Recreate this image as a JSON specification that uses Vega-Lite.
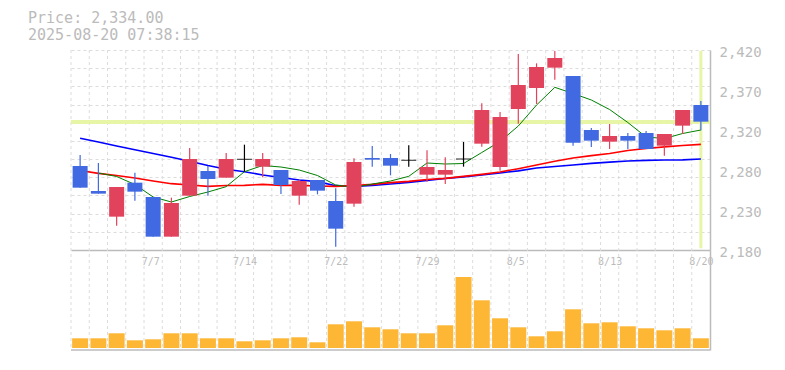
{
  "$schema": "https://vega.github.io/schema/vega-lite/v6.json",
  "autosize": {"type": "none"},
  "padding": {"left": 71, "top": 50, "right": 75, "bottom": 20},
  "width": 639,
  "height": 300,
  "background": "white",
  "config": {"view": {"stroke": null}},
  "title": {
    "text": ["Price: 2,334.00", "2025-08-20 07:38:15"],
    "anchor": "start",
    "frame": "group",
    "orient": "top",
    "dx": -43,
    "offset": 1.6,
    "font": "DejaVu Sans Mono",
    "fontSize": 15,
    "fontWeight": "normal",
    "lineHeight": 17.5,
    "color": "#bbbbbb"
  },
  "data": {"values": [
    {"d": "7/1", "o": 2280.8, "h": 2294.0, "l": 2254.8, "c": 2254.8, "v": 97000, "ma5": null, "ma25": 2275.4, "ma75": 2314.0},
    {"d": "7/2", "o": 2250.8, "h": 2284.4, "l": 2247.6, "c": 2247.6, "v": 97000, "ma5": 2272.4, "ma25": 2272.0, "ma75": 2309.5},
    {"d": "7/3", "o": 2220.0, "h": 2255.6, "l": 2209.2, "c": 2255.6, "v": 147000, "ma5": 2268.2, "ma25": 2269.4, "ma75": 2304.9},
    {"d": "7/4", "o": 2260.8, "h": 2272.8, "l": 2239.2, "c": 2250.0, "v": 77000, "ma5": 2258.6, "ma25": 2266.4, "ma75": 2300.4},
    {"d": "7/7", "o": 2243.6, "h": 2243.6, "l": 2196.0, "c": 2196.0, "v": 87000, "ma5": 2243.6, "ma25": 2262.8, "ma75": 2295.8},
    {"d": "7/8", "o": 2196.0, "h": 2242.8, "l": 2196.0, "c": 2236.4, "v": 147000, "ma5": 2237.6, "ma25": 2259.6, "ma75": 2291.2},
    {"d": "7/9", "o": 2245.2, "h": 2302.4, "l": 2245.2, "c": 2289.2, "v": 147000, "ma5": 2244.2, "ma25": 2258.0, "ma75": 2286.6},
    {"d": "7/10", "o": 2274.8, "h": 2280.8, "l": 2245.2, "c": 2265.2, "v": 97000, "ma5": 2249.6, "ma25": 2256.4, "ma75": 2281.4},
    {"d": "7/11", "o": 2266.8, "h": 2296.4, "l": 2266.8, "c": 2289.2, "v": 97000, "ma5": 2256.0, "ma25": 2257.4, "ma75": 2276.8},
    {"d": "7/14", "o": 2288.8, "h": 2306.4, "l": 2274.0, "c": 2288.8, "v": 67000, "ma5": 2274.0, "ma25": 2257.6, "ma75": 2274.0},
    {"d": "7/15", "o": 2280.0, "h": 2296.4, "l": 2267.2, "c": 2289.2, "v": 77000, "ma5": 2281.4, "ma25": 2258.8, "ma75": 2270.0},
    {"d": "7/16", "o": 2276.0, "h": 2276.0, "l": 2247.2, "c": 2258.0, "v": 97000, "ma5": 2279.6, "ma25": 2257.6, "ma75": 2267.0},
    {"d": "7/17", "o": 2245.2, "h": 2264.4, "l": 2234.4, "c": 2262.8, "v": 107000, "ma5": 2276.0, "ma25": 2257.6, "ma75": 2264.0},
    {"d": "7/18", "o": 2264.0, "h": 2264.0, "l": 2246.8, "c": 2251.2, "v": 57000, "ma5": 2269.4, "ma25": 2256.8, "ma75": 2262.0},
    {"d": "7/22", "o": 2238.8, "h": 2254.0, "l": 2184.0, "c": 2205.6, "v": 237000, "ma5": 2258.0, "ma25": 2256.4, "ma75": 2257.2},
    {"d": "7/23", "o": 2235.6, "h": 2290.0, "l": 2232.0, "c": 2285.6, "v": 267000, "ma5": 2255.0, "ma25": 2257.4, "ma75": 2256.4},
    {"d": "7/24", "o": 2290.4, "h": 2304.8, "l": 2280.0, "c": 2288.4, "v": 207000, "ma5": 2259.2, "ma25": 2258.8, "ma75": 2257.4},
    {"d": "7/25", "o": 2290.4, "h": 2295.2, "l": 2269.6, "c": 2281.2, "v": 187000, "ma5": 2262.8, "ma25": 2260.8, "ma75": 2259.2},
    {"d": "7/28", "o": 2287.6, "h": 2305.6, "l": 2280.0, "c": 2287.6, "v": 147000, "ma5": 2268.4, "ma25": 2262.4, "ma75": 2261.2},
    {"d": "7/29", "o": 2270.4, "h": 2299.6, "l": 2262.0, "c": 2279.6, "v": 147000, "ma5": 2284.4, "ma25": 2264.6, "ma75": 2263.6},
    {"d": "7/30", "o": 2270.4, "h": 2291.2, "l": 2259.2, "c": 2276.0, "v": 227000, "ma5": 2283.2, "ma25": 2266.0, "ma75": 2265.8},
    {"d": "7/31", "o": 2289.2, "h": 2309.6, "l": 2280.0, "c": 2289.2, "v": 710000, "ma5": 2283.8, "ma25": 2268.4, "ma75": 2267.8},
    {"d": "8/1", "o": 2307.6, "h": 2356.0, "l": 2304.0, "c": 2348.0, "v": 477000, "ma5": 2297.0, "ma25": 2270.8, "ma75": 2270.0},
    {"d": "8/4", "o": 2279.6, "h": 2345.6, "l": 2275.2, "c": 2339.6, "v": 297000, "ma5": 2310.2, "ma25": 2273.6, "ma75": 2272.4},
    {"d": "8/5", "o": 2349.2, "h": 2415.2, "l": 2331.6, "c": 2378.0, "v": 207000, "ma5": 2328.8, "ma25": 2277.6, "ma75": 2275.0},
    {"d": "8/6", "o": 2374.4, "h": 2404.0, "l": 2355.2, "c": 2399.6, "v": 117000, "ma5": 2354.0, "ma25": 2282.0, "ma75": 2278.4},
    {"d": "8/7", "o": 2398.8, "h": 2418.8, "l": 2384.4, "c": 2410.4, "v": 167000, "ma5": 2375.2, "ma25": 2286.4, "ma75": 2280.2},
    {"d": "8/8", "o": 2388.8, "h": 2388.8, "l": 2305.2, "c": 2308.8, "v": 387000, "ma5": 2367.8, "ma25": 2290.4, "ma75": 2282.0},
    {"d": "8/12", "o": 2324.0, "h": 2326.4, "l": 2303.6, "c": 2311.2, "v": 247000, "ma5": 2360.0, "ma25": 2293.2, "ma75": 2284.0},
    {"d": "8/13", "o": 2310.0, "h": 2331.2, "l": 2301.2, "c": 2316.8, "v": 257000, "ma5": 2348.6, "ma25": 2295.8, "ma75": 2285.4},
    {"d": "8/14", "o": 2316.8, "h": 2320.4, "l": 2301.2, "c": 2311.2, "v": 217000, "ma5": 2333.0, "ma25": 2299.4, "ma75": 2286.8},
    {"d": "8/15", "o": 2320.4, "h": 2322.8, "l": 2301.2, "c": 2301.2, "v": 197000, "ma5": 2315.6, "ma25": 2301.8, "ma75": 2287.6},
    {"d": "8/18", "o": 2305.2, "h": 2319.2, "l": 2293.2, "c": 2319.2, "v": 177000, "ma5": 2313.8, "ma25": 2303.8, "ma75": 2288.0},
    {"d": "8/19", "o": 2329.2, "h": 2348.0, "l": 2319.2, "c": 2348.0, "v": 197000, "ma5": 2319.8, "ma25": 2305.4, "ma75": 2288.2},
    {"d": "8/20", "o": 2354.0, "h": 2358.8, "l": 2323.6, "c": 2334.0, "v": 97000, "ma5": 2324.0, "ma25": 2306.8, "ma75": 2289.2}
  ]},
  "resolve": {"scale": {"y": "independent"}, "axis": {"y": "independent"}},
  "layer": [
    {
      "mark": {"type": "rule", "color": "#dcdcdc", "strokeDash": [3, 3], "strokeWidth": 1},
      "encoding": {
        "x": {"field": "d", "type": "ordinal", "sort": null, "bandPosition": 0,
          "scale": {"type": "band", "paddingInner": 0, "paddingOuter": 0,
            "domain": ["7/1","7/2","7/3","7/4","7/7","7/8","7/9","7/10","7/11","7/14","7/15","7/16","7/17","7/18","7/22","7/23","7/24","7/25","7/28","7/29","7/30","7/31","8/1","8/4","8/5","8/6","8/7","8/8","8/12","8/13","8/14","8/15","8/18","8/19","8/20"]},
          "axis": {
            "orient": "bottom", "offset": -100, "title": null,
            "grid": false,
            "domain": true, "domainColor": "#bbbbbb", "domainWidth": 1.5,
            "ticks": false,
            "labelExpr": "indexof(['7/7','7/14','7/22','7/29','8/5','8/13','8/20'], datum.value) >= 0 ? datum.value : ''",
            "labelAlign": "left", "labelOffset": -11.5, "labelPadding": 6, "labelAngle": 0,
            "labelFont": "DejaVu Sans Mono", "labelFontSize": 10, "labelColor": "#bbbbbb",
            "labelOverlap": false, "labelBound": false, "labelFlush": false
          }
        }
      }
    },
    {
      "mark": {"type": "rule", "opacity": 0},
      "encoding": {
        "y": {"datum": 2300, "type": "quantitative",
          "scale": {"domain": [2180, 2420], "range": [200, 0], "nice": false, "zero": false},
          "axis": {
            "orient": "left", "title": null,
            "values": [2180, 2201.818, 2223.636, 2245.455, 2267.273, 2289.091, 2310.909, 2332.727, 2354.545, 2376.364, 2398.182, 2420],
            "labels": false, "ticks": false, "domain": false,
            "grid": true, "gridColor": "#dcdcdc", "gridDash": [3, 3], "gridWidth": 1
          }
        }
      }
    },
    {
      "layer": [
        {
          "mark": {"type": "rule", "color": "#e6f5a6", "strokeWidth": 3},
          "encoding": {
            "y": {"datum": 2334, "type": "quantitative",
              "scale": {"domain": [2180, 2420], "range": [200, 0], "nice": false, "zero": false},
              "axis": {
                "orient": "right", "title": null,
                "values": [2180, 2228, 2276, 2324, 2372, 2420],
                "labelExpr": "format(round(datum.value / 10) * 10, ',')",
                "grid": false, "ticks": false,
                "domain": true, "domainColor": "#bbbbbb", "domainWidth": 1.5,
                "labelFont": "DejaVu Sans Mono", "labelFontSize": 14, "labelColor": "#bbbbbb",
                "labelPadding": 9, "labelOffset": 2,
                "labelOverlap": false, "labelBound": false, "labelFlush": false
              }
            }
          }
        },
        {
          "transform": [{"filter": "datum.d === '8/20'"}],
          "mark": {"type": "rule", "color": "#e6f5a6", "strokeWidth": 3},
          "encoding": {
            "x": {"field": "d", "type": "ordinal", "sort": null, "scale": {"type": "band", "paddingInner": 0, "paddingOuter": 0}},
            "y": {"datum": 2182, "type": "quantitative"},
            "y2": {"datum": 2419}
          }
        },
        {
          "mark": {"type": "line", "color": "#0000ff", "strokeWidth": 1.6},
          "encoding": {
            "x": {"field": "d", "type": "ordinal", "sort": null, "scale": {"type": "band", "paddingInner": 0, "paddingOuter": 0}},
            "y": {"field": "ma75", "type": "quantitative"}
          }
        },
        {
          "mark": {"type": "line", "color": "#ff0000", "strokeWidth": 1.6},
          "encoding": {
            "x": {"field": "d", "type": "ordinal", "sort": null, "scale": {"type": "band", "paddingInner": 0, "paddingOuter": 0}},
            "y": {"field": "ma25", "type": "quantitative"}
          }
        },
        {
          "mark": {"type": "line", "color": "#008000", "strokeWidth": 1},
          "encoding": {
            "x": {"field": "d", "type": "ordinal", "sort": null, "scale": {"type": "band", "paddingInner": 0, "paddingOuter": 0}},
            "y": {"field": "ma5", "type": "quantitative"}
          }
        },
        {
          "mark": {"type": "rule", "strokeWidth": 1.2},
          "encoding": {
            "x": {"field": "d", "type": "ordinal", "sort": null, "scale": {"type": "band", "paddingInner": 0, "paddingOuter": 0}},
            "y": {"field": "h", "type": "quantitative"},
            "y2": {"field": "l"},
            "color": {"condition": [{"test": "datum.c > datum.o", "value": "#e1435c"}, {"test": "datum.c < datum.o", "value": "#4169e1"}], "value": "#000000"}
          }
        },
        {
          "transform": [{"filter": "datum.c !== datum.o"}],
          "mark": {"type": "bar", "size": 15},
          "encoding": {
            "x": {"field": "d", "type": "ordinal", "sort": null, "scale": {"type": "band", "paddingInner": 0, "paddingOuter": 0}},
            "y": {"field": "o", "type": "quantitative"},
            "y2": {"field": "c"},
            "color": {"condition": {"test": "datum.c > datum.o", "value": "#e1435c"}, "value": "#4169e1"}
          }
        },
        {
          "transform": [{"filter": "datum.c === datum.o"}],
          "mark": {"type": "tick", "size": 15, "thickness": 1.2, "color": "#000000"},
          "encoding": {
            "x": {"field": "d", "type": "ordinal", "sort": null, "scale": {"type": "band", "paddingInner": 0, "paddingOuter": 0}},
            "y": {"field": "c", "type": "quantitative"}
          }
        }
      ]
    },
    {
      "layer": [
        {
          "mark": {"type": "bar", "size": 16, "color": "#fdb734", "yOffset": -2, "y2Offset": -2},
          "encoding": {
            "x": {"field": "d", "type": "ordinal", "sort": null, "scale": {"type": "band", "paddingInner": 0, "paddingOuter": 0}},
            "y": {"field": "v", "type": "quantitative",
              "scale": {"domain": [0, 1000000], "range": [300, 200], "nice": false, "zero": true},
              "axis": {"orient": "right", "title": null, "labels": false, "ticks": false, "grid": false,
                "domain": true, "domainColor": "#bbbbbb", "domainWidth": 1.5}
            },
            "y2": {"datum": 0}
          }
        },
        {
          "data": {"values": [{}]},
          "mark": {"type": "rule", "color": "#bbbbbb", "strokeWidth": 1.5},
          "encoding": {"y": {"datum": 0, "type": "quantitative"}}
        }
      ]
    }
  ]
}
